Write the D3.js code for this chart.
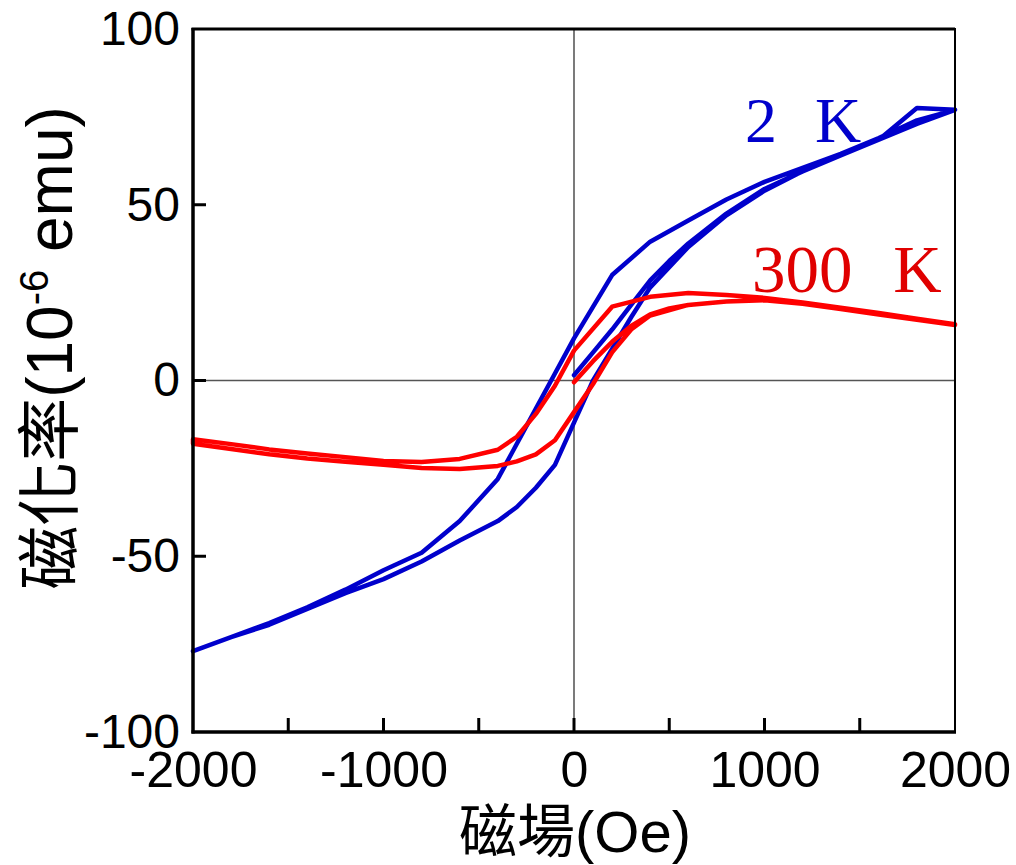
<!DOCTYPE html>
<html>
<head>
<meta charset="utf-8">
<script src="https://cdn.jsdelivr.net/npm/d3@7"></script>
<style>
  html, body { margin: 0; padding: 0; background: #fff; }
  svg { display: block; }
</style>
</head>
<body>
<svg id="chart" width="1016" height="865"></svg>
<script>
// Magnetic field (Oe) and magnetization (10^-6 emu) for the two temperatures.
// Each loop: initial magnetization curve, then the descending branch, then the ascending branch.
const fieldVirgin   = [0, 100, 200, 300, 400, 500, 600, 800, 1000, 1200, 1400, 1600, 1800, 2000];
const m2KVirgin     = [1.5, 8, 14.5, 21.5, 28.5, 34, 39, 47.5, 54.5, 59.5, 64, 68.5, 77.5, 77];

const fieldDown     = [2000, 1800, 1600, 1400, 1200, 1000, 800, 600, 400, 200, 0, -100, -200, -300, -400, -600, -800, -1000, -1200, -1400, -1600, -1800, -2000];
const m2KDown       = [77, 74, 69, 64.5, 60.5, 56.5, 51.5, 45.5, 39.5, 30, 12, 2, -8, -18, -28, -40, -49, -54, -59.5, -64.5, -69, -73, -77];

const fieldUp       = [-2000, -1800, -1600, -1400, -1200, -1000, -800, -600, -400, -300, -200, -100, 0, 100, 200, 300, 400, 600, 800, 1000, 1200, 1400, 1600, 1800, 2000];
const m2KUp         = [-77, -73, -69.5, -65, -60.5, -56.5, -51.5, -45.5, -40, -36, -30.5, -24, -12, 0, 9, 18, 26.5, 38, 47, 54, 59.5, 64, 68.5, 73, 77];

const m300KVirgin   = [-0.5, 5.5, 11, 15.5, 18.8, 20.5, 21.5, 22.5, 23, 22, 20.5, 19, 17.5, 16];
const m300KDown     = [16, 17.6, 19.2, 20.7, 22.2, 23.5, 24.3, 24.9, 23.8, 21, 8.5, -1.5, -9.5, -16, -19.7, -22.3, -23.2, -22.9, -21.8, -20.8, -19.6, -18.1, -16.7];
const m300KUp       = [-18, -19.5, -21, -22.2, -23.1, -24, -24.9, -25.2, -24.3, -23, -21, -17, -9, -1, 8, 14.5, 18.5, 21.5, 22.5, 22.8, 21.8, 20.3, 18.8, 17.3, 15.8];

const xTicksMajor   = [-2000, -1000, 0, 1000, 2000];
const xTicksMinor   = [-1500, -1000, -500, 0, 500, 1000, 1500];
const yTicks        = [-100, -50, 0, 50, 100];
const yTicksInner   = [-50, 0, 50];

const seriesLabels  = ["2 K", "300 K"];

// Join field / magnetization arrays into one continuous measurement path
function loop(mVirgin, mDown, mUp) {
  const pts = [];
  fieldVirgin.forEach((h, i) => pts.push([h, mVirgin[i]]));
  fieldDown.forEach((h, i) => pts.push([h, mDown[i]]));
  fieldUp.forEach((h, i) => pts.push([h, mUp[i]]));
  return pts;
}
const loop2K   = loop(m2KVirgin, m2KDown, m2KUp);
const loop300K = loop(m300KVirgin, m300KDown, m300KUp);

const svg = d3.select("#chart");
const pLeft = 193, pRight = 955, pTop = 29, pBottom = 732;

const x = d3.scaleLinear().domain([-2000, 2000]).range([pLeft, pRight]);
const y = d3.scaleLinear().domain([-100, 100]).range([pBottom, pTop]);

const sans = "'Liberation Sans', Arial, sans-serif";
const serif = "'Liberation Serif', 'Times New Roman', serif";
const cjk = "'Noto Sans CJK TC', 'Noto Sans CJK SC', sans-serif";

// plain hyphen for negative tick values
const fmt = d => String(d);

// zero reference lines
svg.append("line")
  .attr("x1", x(0)).attr("x2", x(0)).attr("y1", pTop).attr("y2", pBottom)
  .attr("stroke", "#333").attr("stroke-width", 1.3);
svg.append("line")
  .attr("x1", pLeft).attr("x2", pRight).attr("y1", y(0)).attr("y2", y(0))
  .attr("stroke", "#555").attr("stroke-width", 1.3);

// data curves
const line = d3.line().x(d => x(d[0])).y(d => y(d[1]));
svg.append("path").datum(loop2K)
  .attr("d", line).attr("fill", "none")
  .attr("stroke", "#0000cc").attr("stroke-width", 4.5)
  .attr("stroke-linejoin", "round").attr("stroke-linecap", "round");
svg.append("path").datum(loop300K)
  .attr("d", line).attr("fill", "none")
  .attr("stroke", "#ff0000").attr("stroke-width", 4.5)
  .attr("stroke-linejoin", "round").attr("stroke-linecap", "round");

// frame
svg.append("rect")
  .attr("x", pLeft).attr("y", pTop).attr("width", pRight - pLeft).attr("height", pBottom - pTop)
  .attr("fill", "none").attr("stroke", "#000").attr("stroke-width", 2);
svg.append("line").attr("x1", pLeft).attr("x2", pLeft).attr("y1", pTop - 1).attr("y2", pBottom + 1.5)
  .attr("stroke", "#000").attr("stroke-width", 3.5);
svg.append("line").attr("x1", pLeft - 1.5).attr("x2", pRight + 1).attr("y1", pBottom).attr("y2", pBottom)
  .attr("stroke", "#000").attr("stroke-width", 3.5);
svg.append("line").attr("x1", pLeft - 1.5).attr("x2", pRight).attr("y1", pTop).attr("y2", pTop)
  .attr("stroke", "#000").attr("stroke-width", 3);

// x axis: inward ticks, labels below
const xAxis = d3.axisBottom(x).tickValues(xTicksMajor).tickSize(0).tickPadding(19).tickFormat(fmt);
const gx = svg.append("g").attr("transform", `translate(0,${pBottom})`).call(xAxis);
gx.select(".domain").remove();
gx.selectAll("text").attr("font-family", sans).attr("font-size", 50).attr("fill", "#000")
  .attr("dy", "0.71em");
svg.selectAll(".xtick").data(xTicksMinor).join("line")
  .attr("class", "xtick")
  .attr("x1", d => x(d)).attr("x2", d => x(d))
  .attr("y1", pBottom).attr("y2", pBottom - 14)
  .attr("stroke", "#000").attr("stroke-width", 3);

// y axis: inward ticks, labels to the left
const yAxis = d3.axisLeft(y).tickValues(yTicks).tickSize(0).tickPadding(13).tickFormat(fmt);
const gy = svg.append("g").attr("transform", `translate(${pLeft},0)`).call(yAxis);
gy.select(".domain").remove();
gy.selectAll("text").attr("font-family", sans).attr("font-size", 48).attr("fill", "#000");
svg.selectAll(".ytick").data(yTicksInner).join("line")
  .attr("class", "ytick")
  .attr("x1", pLeft).attr("x2", pLeft + 13)
  .attr("y1", d => y(d)).attr("y2", d => y(d))
  .attr("stroke", "#000").attr("stroke-width", 3);

// axis titles
svg.append("text")
  .attr("x", 575).attr("y", 852)
  .attr("text-anchor", "middle")
  .attr("font-size", 58).attr("fill", "#000")
  .call(t => {
    t.append("tspan").attr("font-family", cjk).text("磁場");
    t.append("tspan").attr("font-family", sans).text("(Oe)");
  });

const yt = svg.append("text")
  .attr("transform", "translate(72,348) rotate(-90)")
  .attr("text-anchor", "middle")
  .attr("font-size", 64).attr("fill", "#000");
yt.append("tspan").attr("font-family", cjk).text("磁化率");
yt.append("tspan").attr("font-family", sans).text("(10");
yt.append("tspan").attr("font-family", sans).attr("font-size", 40).attr("dy", -24).text("-6");
yt.append("tspan").attr("font-family", sans).attr("dy", 24).text(" emu)");

// series labels
svg.append("text")
  .attr("x", 745).attr("y", 142)
  .attr("font-family", serif).attr("font-size", 64).attr("fill", "#0000cc")
  .attr("word-spacing", 22)
  .text(seriesLabels[0]);
svg.append("text")
  .attr("x", 752).attr("y", 292)
  .attr("font-family", serif).attr("font-size", 67).attr("fill", "#e00000")
  .attr("word-spacing", 24)
  .text(seriesLabels[1]);
</script>
</body>
</html>
